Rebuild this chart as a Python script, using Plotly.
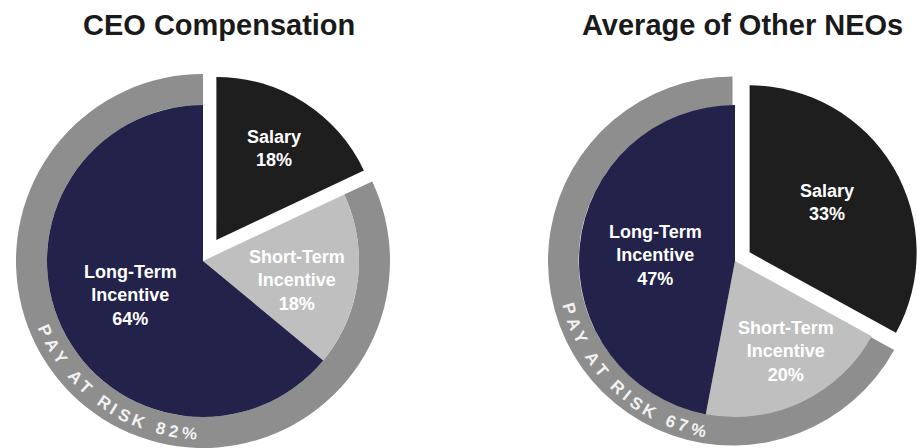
import math
import plotly.graph_objects as go

W, H = 917, 448

# ---------------- data ----------------
titles = ["CEO Compensation", "Average of Other NEOs"]
categories = ["Salary", "Short-Term Incentive", "Long-Term Incentive"]
label_lines = ["Salary", "Short-Term<br>Incentive", "Long-Term<br>Incentive"]
ceo_values = [18, 18, 64]
neo_values = [33, 20, 47]
ring_label = "PAY AT RISK"

# ---------------- styles / layout ----------------
SAL_C = "#1e1e1e"
STI_C = "#bebfbe"
LTI_C = "#22224a"
RING_C = "#8e8e8e"
NONE = "rgba(0,0,0,0)"
FONT = "Liberation Sans, Arial, sans-serif"

panels = [
    dict(values=ceo_values, title=titles[0], cx=203, cy=261, r_in=156, r_out=187,
         pull_px=25, sal_r=163, title_x=219, text_mid=234.6, text_r=173,
         label_r=[108, 96, 80], label_nudge=[0, 4.8, 0]),
    dict(values=neo_values, title=titles[1], cx=735, cy=261, r_in=156, r_out=187,
         pull_px=17, sal_r=167, title_x=742, text_mid=226.9, text_r=173,
         label_r=[92, 104, 80], label_nudge=[-2.4, -4.1, -1.8]),
]

# approximate Arial-bold advance widths (em) for the ring lettering
CHAR_W = {"P": .667, "A": .722, "Y": .667, "T": .611, "R": .722, "I": .278,
          "S": .667, "K": .722, " ": .278, "%": .889}
RING_FS = 17
TRACK = 3.8


def dom(cx, cy, R):
    x0, x1 = max(0.0, (cx - R) / W), min(1.0, (cx + R) / W)
    y0, y1 = max(0.0, 1 - (cy + R) / H), min(1.0, 1 - (cy - R) / H)
    return dict(x=[x0, x1], y=[y0, y1])


def px2paper(x, y):
    return x / W, 1 - y / H


fig = go.Figure()
annotations = []

for p in panels:
    sal, sti, lti = p["values"]
    at_risk = sti + lti
    cx, cy = p["cx"], p["cy"]
    common = dict(sort=False, direction="clockwise", rotation=0, textinfo="none",
                  hoverinfo="skip", showlegend=False)

    # gray "pay at risk" ring
    fig.add_trace(go.Pie(values=[sal, at_risk], labels=["Salary", "Pay at risk"],
                         marker=dict(colors=[NONE, RING_C], line=dict(width=0)),
                         hole=p["r_in"] / p["r_out"], domain=dom(cx, cy, p["r_out"]),
                         **common))
    # inner pie (incentives)
    fig.add_trace(go.Pie(values=p["values"], labels=categories,
                         marker=dict(colors=[NONE, STI_C, LTI_C], line=dict(width=0)),
                         domain=dom(cx, cy, p["r_in"]), **common))
    # exploded salary slice
    bis_sal = sal / 100 * 360 / 2
    sx = cx + p["pull_px"] * math.sin(math.radians(bis_sal))
    sy = cy - p["pull_px"] * math.cos(math.radians(bis_sal))
    fig.add_trace(go.Pie(values=[sal, at_risk], labels=["Salary", "Other"],
                         marker=dict(colors=[SAL_C, NONE], line=dict(width=0)),
                         domain=dom(sx, sy, p["sal_r"]), **common))

    # title
    tx, ty = px2paper(p["title_x"], 25)
    annotations.append(dict(x=tx, y=ty, xref="paper", yref="paper", showarrow=False,
                            text="<b>%s</b>" % p["title"], xanchor="center", yanchor="middle",
                            font=dict(family=FONT, size=29, color="#1a1a1a")))

    # slice labels
    start = 0.0
    for i, v in enumerate(p["values"]):
        bis = start + v / 100 * 360 / 2 + p["label_nudge"][i]
        start += v / 100 * 360
        ox, oy = (sx, sy) if i == 0 else (cx, cy)
        lx = ox + p["label_r"][i] * math.sin(math.radians(bis))
        ly = oy - p["label_r"][i] * math.cos(math.radians(bis))
        ax, ay = px2paper(lx, ly)
        annotations.append(dict(x=ax, y=ay, xref="paper", yref="paper", showarrow=False,
                                text="<b>%s<br>%d%%</b>" % (label_lines[i], v),
                                xanchor="center", yanchor="middle",
                                font=dict(family=FONT, size=18, color="white")))

    # curved "PAY AT RISK xx%" lettering
    txt = "%s %d%%" % (ring_label, at_risk)
    widths = [CHAR_W.get(ch, .556) * RING_FS for ch in txt]
    s = [0.0]
    for i in range(1, len(txt)):
        s.append(s[-1] + widths[i - 1] / 2 + widths[i] / 2 + TRACK)
    total = s[-1]
    r = p["text_r"]
    th0 = p["text_mid"] - math.degrees(total / 2 / r)
    for ch, si in zip(txt, s):
        if ch == " ":
            continue
        th = th0 + math.degrees(si / r)
        x = cx + r * math.cos(math.radians(th))
        y = cy - r * math.sin(math.radians(th))
        ax, ay = px2paper(x, y)
        annotations.append(dict(x=ax, y=ay, xref="paper", yref="paper", showarrow=False,
                                text="<b>%s</b>" % ch, textangle=270 - th,
                                xanchor="center", yanchor="middle",
                                font=dict(family=FONT, size=RING_FS, color="#f2f2f2")))

fig.update_layout(width=W, height=H, margin=dict(l=0, r=0, t=0, b=0),
                  paper_bgcolor="white", plot_bgcolor="white",
                  annotations=annotations, showlegend=False)

fig.write_html("out.html", config={"displayModeBar": False, "staticPlot": True},
               post_script="document.body.style.margin='0';document.body.style.padding='0';"
                           "document.body.style.overflow='hidden';")
